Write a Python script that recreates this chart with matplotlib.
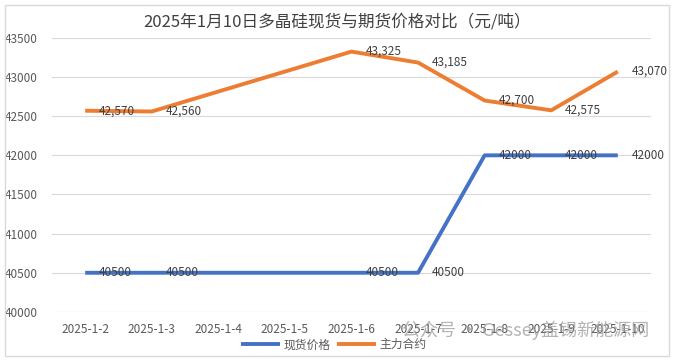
#!/usr/bin/env python3
"""Polysilicon spot vs futures price, 2025-01-02 .. 2025-01-10."""

import matplotlib
matplotlib.use("Agg")
import matplotlib.pyplot as plt
from matplotlib.patches import Rectangle

plt.rcParams["font.family"] = ["Noto Sans CJK SC", "DejaVu Sans"]

DATES = ["2025-1-2", "2025-1-3", "2025-1-4", "2025-1-5", "2025-1-6",
         "2025-1-7", "2025-1-8", "2025-1-9", "2025-1-10"]
SPOT = [40500, 40500, None, None, 40500, 40500, 42000, 42000, 42000]
FUTURES = [42570, 42560, None, None, 43325, 43185, 42700, 42575, 43070]
YTICKS = list(range(40000, 43501, 500))

BLUE = "#4472C4"
ORANGE = "#ED7D31"
GREY = "#595959"


def series(vals):
    xs = [i for i, v in enumerate(vals) if v is not None]
    return xs, [vals[i] for i in xs]


fig = plt.figure(figsize=(6.74, 3.61), dpi=100)
ax = fig.add_axes([0.077, 0.136, 0.889, 0.759])

sx, sy = series(SPOT)
fx, fy = series(FUTURES)
l1, = ax.plot(sx, sy, color=BLUE, lw=2.8, solid_capstyle="butt", label="现货价格")
l2, = ax.plot(fx, fy, color=ORANGE, lw=2.8, solid_capstyle="butt", label="主力合约")

for x, y in zip(sx, sy):
    ax.annotate(f"{y}", (x, y), xytext=(10, 0), textcoords="offset points",
                ha="left", va="center", fontsize=8.5, color="#404040")
for x, y in zip(fx, fy):
    ax.annotate(f"{y:,}", (x, y), xytext=(10, 0), textcoords="offset points",
                ha="left", va="center", fontsize=8.5, color="#404040")

ax.set_xlim(-0.5, len(DATES) - 0.5)
ax.set_ylim(40000, 43500)
ax.set_yticks(YTICKS)
ax.set_xticks(range(len(DATES)))
ax.set_xticklabels(DATES)
ax.tick_params(length=0, labelsize=8.5, colors=GREY, pad=8)
ax.tick_params(axis="y", pad=10)
ax.grid(axis="y", color="#D9D9D9", lw=0.8)
ax.set_axisbelow(True)
for s in ax.spines.values():
    s.set_visible(False)

fig.text(0.5, 0.94, "2025年1月10日多晶硅现货与期货价格对比（元/吨）",
         ha="center", va="center", fontsize=12, color="#404040")

fig.legend(handles=[l1, l2], loc="center", bbox_to_anchor=(0.495, 0.045),
           ncol=2, frameon=False, fontsize=8.5, handlelength=3.3,
           handletextpad=0.3, columnspacing=0.6, labelcolor=GREY)

fig.text(0.78, 0.085, "公众号 · Gessey盖锡新能源网", ha="center", va="center",
         fontsize=13, color="#9A9A9A", alpha=0.75)

fig.patches.append(Rectangle((0.008, 0.015), 0.984, 0.97, transform=fig.transFigure,
                             fill=False, edgecolor="#D9D9D9", lw=1))

fig.savefig("out.png", dpi=100)
